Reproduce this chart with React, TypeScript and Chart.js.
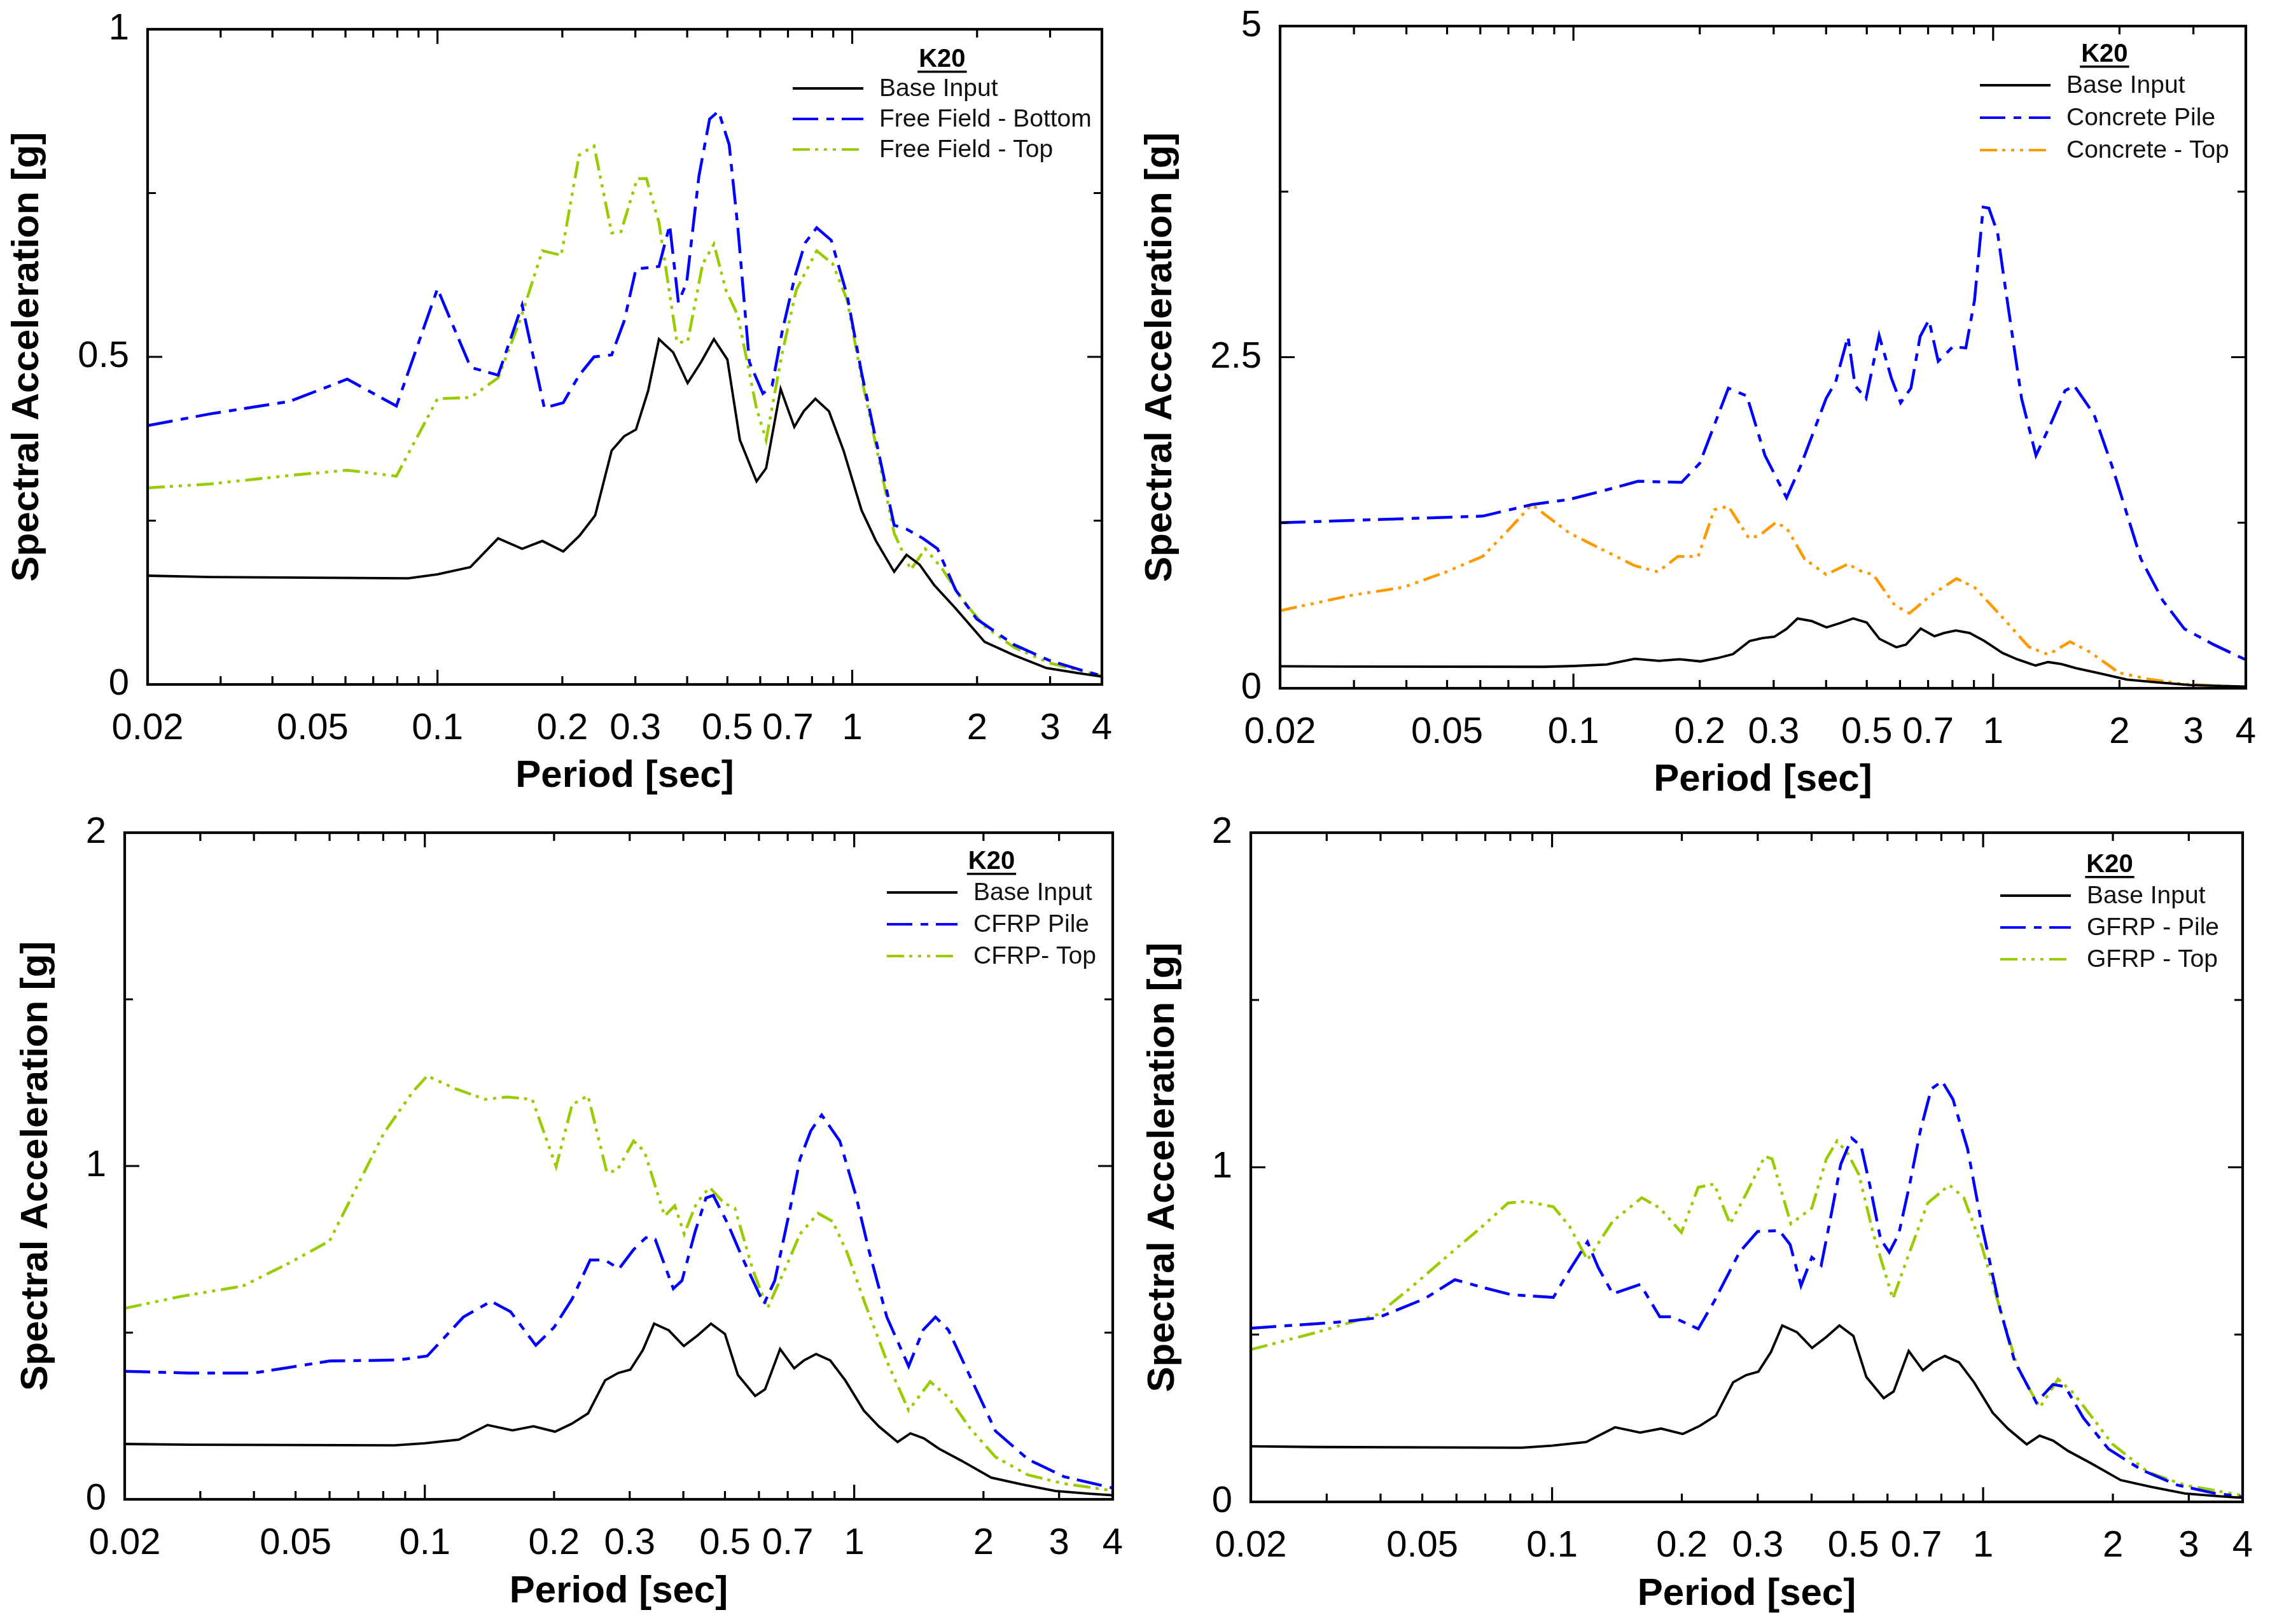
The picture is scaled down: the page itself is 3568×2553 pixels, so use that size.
import { useEffect, useRef } from 'react'
import { Chart, registerables } from 'chart.js'

Chart.register(...registerables)

const FONT = '"Liberation Sans", Arial, sans-serif'
Chart.defaults.font.family = FONT
Chart.defaults.color = '#000'

// labelled periods and the tick marks of the log axis
const X_TICKS = [0.02, 0.05, 0.1, 0.2, 0.3, 0.5, 0.7, 1, 2, 3, 4]
const X_MAJOR_MARKS = [0.1, 1]
const X_MINOR_MARKS = [0.03, 0.04, 0.05, 0.06, 0.07, 0.08, 0.09, 0.2, 0.3, 0.4, 0.5, 0.6, 0.7, 0.8, 0.9, 2, 3]

// [period (sec), spectral acceleration (g)]
const BASE_INPUT: [number, number][] = [
  [0.02, 0.166], [0.0283, 0.164], [0.085, 0.162], [0.1, 0.168], [0.12, 0.179], [0.14, 0.223],
  [0.16, 0.207], [0.179, 0.219], [0.201, 0.203], [0.22, 0.227], [0.24, 0.258], [0.263, 0.357],
  [0.282, 0.379], [0.301, 0.389], [0.322, 0.448], [0.342, 0.527], [0.37, 0.507], [0.401, 0.46],
  [0.432, 0.492], [0.464, 0.527], [0.5, 0.496], [0.536, 0.373], [0.588, 0.31], [0.62, 0.33],
  [0.672, 0.451], [0.725, 0.393], [0.764, 0.417], [0.815, 0.436], [0.879, 0.417], [0.953, 0.357],
  [1.053, 0.266], [1.141, 0.219], [1.262, 0.172], [1.352, 0.198], [1.453, 0.183], [1.575, 0.152],
  [1.776, 0.116], [2.085, 0.065], [2.45, 0.045], [2.94, 0.025], [3.52, 0.017], [4.0, 0.012],
]

const FF_BOTTOM: [number, number][] = [
  [0.02, 0.395], [0.0283, 0.413], [0.044, 0.432], [0.0606, 0.466], [0.0796, 0.425], [0.1, 0.604],
  [0.1202, 0.484], [0.14, 0.472], [0.16, 0.579], [0.181, 0.422], [0.201, 0.43], [0.2196, 0.472],
  [0.2385, 0.5], [0.263, 0.503], [0.282, 0.555], [0.301, 0.634], [0.342, 0.638], [0.363, 0.701],
  [0.381, 0.583], [0.399, 0.614], [0.427, 0.776], [0.453, 0.863], [0.476, 0.875], [0.505, 0.824],
  [0.53, 0.697], [0.565, 0.492], [0.609, 0.444], [0.641, 0.456], [0.678, 0.539], [0.727, 0.622],
  [0.77, 0.674], [0.821, 0.697], [0.89, 0.678], [0.972, 0.594], [1.053, 0.476], [1.141, 0.373],
  [1.262, 0.243], [1.352, 0.237], [1.481, 0.223], [1.606, 0.207], [1.776, 0.144], [1.996, 0.1],
  [2.45, 0.061], [2.98, 0.037], [3.52, 0.023], [4.0, 0.013],
]

const FF_TOP: [number, number][] = [
  [0.02, 0.3], [0.0283, 0.306], [0.044, 0.319], [0.0606, 0.327], [0.0796, 0.318], [0.1, 0.436],
  [0.1202, 0.438], [0.14, 0.468], [0.158, 0.555], [0.179, 0.662], [0.1988, 0.655], [0.2196, 0.808],
  [0.2385, 0.822], [0.263, 0.689], [0.277, 0.691], [0.303, 0.772], [0.319, 0.772], [0.342, 0.705],
  [0.378, 0.522], [0.401, 0.523], [0.436, 0.642], [0.464, 0.672], [0.496, 0.602], [0.53, 0.563],
  [0.588, 0.421], [0.62, 0.373], [0.675, 0.5], [0.733, 0.602], [0.821, 0.662], [0.897, 0.642],
  [0.972, 0.587], [1.053, 0.468], [1.141, 0.365], [1.262, 0.231], [1.384, 0.175], [1.5, 0.207],
  [1.638, 0.179], [1.849, 0.128], [2.085, 0.089], [2.45, 0.057], [2.98, 0.033], [4.0, 0.013],
]

const CONCRETE_PILE: [number, number][] = [
  [0.02, 1.25], [0.0608, 1.3], [0.0796, 1.387], [0.0978, 1.426], [0.1193, 1.496], [0.1426, 1.563],
  [0.181, 1.555], [0.2, 1.699], [0.234, 2.266], [0.259, 2.207], [0.286, 1.758], [0.322, 1.438],
  [0.348, 1.68], [0.4, 2.188], [0.4215, 2.313], [0.451, 2.656], [0.469, 2.285], [0.498, 2.188],
  [0.535, 2.664], [0.572, 2.344], [0.602, 2.156], [0.637, 2.266], [0.67, 2.656], [0.703, 2.781],
  [0.74, 2.469], [0.801, 2.578], [0.861, 2.57], [0.903, 2.93], [0.947, 3.633], [0.977, 3.625],
  [1.025, 3.438], [1.058, 3.125], [1.169, 2.188], [1.265, 1.758], [1.37, 1.992], [1.483, 2.246],
  [1.56, 2.285], [1.738, 2.07], [1.919, 1.68], [2.249, 0.977], [2.535, 0.664], [2.855, 0.449],
  [3.342, 0.332], [4.0, 0.215],
]

const CONCRETE_TOP: [number, number][] = [
  [0.02, 0.586], [0.0297, 0.703], [0.0393, 0.762], [0.0498, 0.879], [0.0608, 0.996], [0.0698, 1.191],
  [0.0796, 1.387], [0.0978, 1.172], [0.1193, 1.035], [0.1398, 0.926], [0.159, 0.879], [0.1774, 0.996],
  [0.1983, 0.996], [0.2165, 1.348], [0.234, 1.375], [0.262, 1.133], [0.277, 1.152], [0.303, 1.25],
  [0.322, 1.211], [0.3554, 0.977], [0.4, 0.859], [0.451, 0.938], [0.488, 0.879], [0.518, 0.859],
  [0.5835, 0.625], [0.632, 0.566], [0.711, 0.703], [0.818, 0.828], [0.903, 0.762], [1.058, 0.527],
  [1.216, 0.313], [1.353, 0.254], [1.525, 0.352], [1.702, 0.273], [1.997, 0.117], [2.34, 0.07],
  [2.855, 0.031], [4.0, 0.008],
]

const CFRP_PILE: [number, number][] = [
  [0.02, 0.384], [0.0281, 0.379], [0.04, 0.379], [0.0485, 0.396], [0.06, 0.415], [0.0867, 0.418],
  [0.1013, 0.43], [0.123, 0.547], [0.1426, 0.594], [0.1583, 0.563], [0.1813, 0.462], [0.2, 0.516],
  [0.2203, 0.601], [0.2427, 0.718], [0.2624, 0.718], [0.2835, 0.692], [0.3062, 0.749], [0.3272, 0.785],
  [0.344, 0.78], [0.379, 0.632], [0.397, 0.656], [0.4261, 0.803], [0.4516, 0.904], [0.4696, 0.912],
  [0.5075, 0.827], [0.5483, 0.726], [0.6161, 0.586], [0.653, 0.656], [0.7055, 0.858], [0.7478, 1.021],
  [0.7925, 1.106], [0.84, 1.153], [0.9257, 1.075], [1.0085, 0.912], [1.081, 0.749], [1.191, 0.547],
  [1.339, 0.399], [1.447, 0.508], [1.546, 0.547], [1.657, 0.508], [1.862, 0.368], [2.133, 0.205],
  [2.54, 0.12], [3.08, 0.068], [4.0, 0.034],
]

const CFRP_TOP: [number, number][] = [
  [0.02, 0.573], [0.0271, 0.609], [0.0377, 0.64], [0.0485, 0.71], [0.06, 0.775], [0.0803, 1.099],
  [0.0938, 1.223], [0.1013, 1.27], [0.1183, 1.231], [0.1382, 1.2], [0.1553, 1.207], [0.1779, 1.2],
  [0.2022, 0.998], [0.2203, 1.184], [0.2399, 1.211], [0.2653, 0.982], [0.28, 0.985], [0.3062, 1.075],
  [0.3246, 1.044], [0.3619, 0.85], [0.382, 0.881], [0.4019, 0.796], [0.4294, 0.889], [0.4604, 0.936],
  [0.4975, 0.889], [0.5274, 0.873], [0.5811, 0.687], [0.628, 0.573], [0.692, 0.694], [0.7478, 0.796],
  [0.824, 0.858], [0.8906, 0.834], [0.962, 0.741], [1.061, 0.586], [1.191, 0.415], [1.339, 0.267],
  [1.503, 0.353], [1.657, 0.306], [1.862, 0.213], [2.133, 0.127], [2.54, 0.073], [3.08, 0.047],
  [4.0, 0.026],
]

const GFRP_PILE: [number, number][] = [
  [0.02, 0.519], [0.0318, 0.537], [0.0394, 0.55], [0.0506, 0.607], [0.0595, 0.664], [0.069, 0.641],
  [0.0805, 0.619], [0.1007, 0.611], [0.1097, 0.692], [0.1208, 0.777], [0.128, 0.7], [0.1383, 0.622],
  [0.1602, 0.65], [0.1778, 0.553], [0.1898, 0.553], [0.2183, 0.517], [0.2377, 0.599], [0.2721, 0.746],
  [0.2997, 0.808], [0.3366, 0.811], [0.3567, 0.769], [0.378, 0.646], [0.4005, 0.731], [0.4211, 0.707],
  [0.4412, 0.839], [0.4675, 1.009], [0.4955, 1.087], [0.5211, 1.063], [0.5458, 0.947], [0.5783, 0.785],
  [0.6057, 0.746], [0.637, 0.8], [0.675, 0.947], [0.7153, 1.11], [0.758, 1.234], [0.8033, 1.257],
  [0.8513, 1.203], [0.92, 1.056], [0.994, 0.824], [1.095, 0.576], [1.183, 0.421], [1.329, 0.297],
  [1.452, 0.351], [1.551, 0.344], [1.708, 0.251], [1.954, 0.158], [2.328, 0.096], [2.825, 0.05],
  [3.43, 0.026], [4.0, 0.015],
]

const GFRP_TOP: [number, number][] = [
  [0.02, 0.455], [0.0283, 0.506], [0.0394, 0.56], [0.0468, 0.638], [0.0595, 0.754], [0.069, 0.824],
  [0.079, 0.893], [0.0869, 0.898], [0.1007, 0.882], [0.1097, 0.824], [0.1208, 0.723], [0.1383, 0.839],
  [0.1615, 0.909], [0.1778, 0.878], [0.1995, 0.805], [0.2183, 0.94], [0.2377, 0.95], [0.2588, 0.831],
  [0.2829, 0.924], [0.3116, 1.033], [0.3239, 1.025], [0.3581, 0.831], [0.4005, 0.878], [0.4328, 1.025],
  [0.4585, 1.079], [0.4858, 1.04], [0.515, 0.978], [0.5565, 0.8], [0.6175, 0.607], [0.675, 0.746],
  [0.7437, 0.893], [0.8351, 0.947], [0.9022, 0.909], [0.994, 0.762], [1.095, 0.576], [1.205, 0.398],
  [1.354, 0.282], [1.492, 0.367], [1.612, 0.328], [1.775, 0.259], [1.994, 0.173], [2.42, 0.088],
  [2.94, 0.05], [4.0, 0.019],
]

const BLACK = '#000000'
const BLUE = '#0000ff'
const GREEN = '#99cc00'
const ORANGE = '#ff9900'
const SOLID: number[] = []
const DASH_DOT = [40, 13, 12, 12]
const DASH_DOT_DOT = [27, 8, 5, 9, 5, 9, 5, 9]

interface Series {
  label: string
  points: [number, number][]
  color: string
  dash: number[]
}

interface PanelConfig {
  left: number
  top: number
  w: number
  h: number
  area: { left: number; top: number; right: number; bottom: number }
  yMax: number
  yStep: number
  series: Series[]
  legend: { fromRight: number; titleY: number; rowY: number; rowGap: number }
  xTitlePad: number
  yTitlePad: number
}

const base = (): Series => ({ label: 'Base Input', points: BASE_INPUT, color: BLACK, dash: SOLID })

const PANELS: PanelConfig[] = [
  {
    left: 0, top: 0, w: 1784, h: 1276,
    area: { left: 232, top: 46, right: 1732, bottom: 1076 },
    yMax: 1, yStep: 0.5,
    series: [
      base(),
      { label: 'Free Field - Bottom', points: FF_BOTTOM, color: BLUE, dash: DASH_DOT },
      { label: 'Free Field - Top', points: FF_TOP, color: GREEN, dash: DASH_DOT_DOT },
    ],
    legend: { fromRight: 350, titleY: 48, rowY: 93, rowGap: 48 },
    xTitlePad: 20, yTitlePad: 7,
  },
  {
    left: 1784, top: 0, w: 1784, h: 1276,
    area: { left: 228, top: 41, right: 1746, bottom: 1082 },
    yMax: 5, yStep: 2.5,
    series: [
      base(),
      { label: 'Concrete Pile', points: CONCRETE_PILE, color: BLUE, dash: DASH_DOT },
      { label: 'Concrete - Top', points: CONCRETE_TOP, color: ORANGE, dash: DASH_DOT_DOT },
    ],
    legend: { fromRight: 282, titleY: 45, rowY: 93, rowGap: 51 },
    xTitlePad: 14, yTitlePad: 4,
  },
  {
    left: 0, top: 1230, w: 1784, h: 1323,
    area: { left: 196, top: 79, right: 1749, bottom: 1127 },
    yMax: 2, yStep: 1,
    series: [
      base(),
      { label: 'CFRP Pile', points: CFRP_PILE, color: BLUE, dash: DASH_DOT },
      { label: 'CFRP- Top', points: CFRP_TOP, color: GREEN, dash: DASH_DOT_DOT },
    ],
    legend: { fromRight: 219, titleY: 46, rowY: 94, rowGap: 50 },
    xTitlePad: 15, yTitlePad: 21,
  },
  {
    left: 1784, top: 1230, w: 1784, h: 1323,
    area: { left: 182, top: 79, right: 1741, bottom: 1131 },
    yMax: 2, yStep: 1,
    series: [
      base(),
      { label: 'GFRP - Pile', points: GFRP_PILE, color: BLUE, dash: DASH_DOT },
      { label: 'GFRP - Top', points: GFRP_TOP, color: GREEN, dash: DASH_DOT_DOT },
    ],
    legend: { fromRight: 245, titleY: 51, rowY: 99, rowGap: 50 },
    xTitlePad: 11, yTitlePad: 8,
  },
]

// box round the plot with inward ticks on all four sides
const framePlugin = {
  id: 'frame',
  afterDatasetsDraw(chart: any) {
    const { ctx, chartArea: a, scales } = chart
    const x = scales.x
    const y = scales.y
    const step = chart.options.plugins.frame.yStep
    const max = chart.options.plugins.frame.yMax
    ctx.save()
    ctx.strokeStyle = '#000'
    ctx.lineWidth = 3.2
    ctx.setLineDash([])
    ctx.beginPath()
    const xMark = (v: number, len: number) => {
      const px = x.getPixelForValue(v)
      ctx.moveTo(px, a.bottom)
      ctx.lineTo(px, a.bottom - len)
      ctx.moveTo(px, a.top)
      ctx.lineTo(px, a.top + len)
    }
    X_MAJOR_MARKS.forEach((v) => xMark(v, 23))
    X_MINOR_MARKS.forEach((v) => xMark(v, 13))
    for (let i = 1; i * step / 2 < max; i++) {
      const py = y.getPixelForValue(i * step / 2)
      const len = i % 2 === 0 ? 23 : 13
      ctx.moveTo(a.left, py)
      ctx.lineTo(a.left + len, py)
      ctx.moveTo(a.right, py)
      ctx.lineTo(a.right - len, py)
    }
    ctx.stroke()
    ctx.lineWidth = 4.2
    ctx.strokeRect(a.left, a.top, a.right - a.left, a.bottom - a.top)
    ctx.restore()
  },
}

const legendPlugin = {
  id: 'k20',
  afterDraw(chart: any) {
    const { ctx, chartArea: a } = chart
    const o = chart.options.plugins.k20
    const sets = chart.data.datasets
    const textX = a.right - o.fromRight
    ctx.save()
    ctx.font = `39px ${FONT}`
    const maxW = Math.max(...sets.map((d: any) => ctx.measureText(d.label).width))
    const centerX = (textX - 136 + textX + maxW) / 2

    ctx.font = `bold 40px ${FONT}`
    ctx.fillStyle = '#000'
    ctx.textAlign = 'center'
    ctx.textBaseline = 'middle'
    const ty = a.top + o.titleY
    ctx.fillText('K20', centerX, ty)
    const tw = ctx.measureText('K20').width
    ctx.fillRect(centerX - tw / 2 - 2, ty + 17, tw + 4, 3.5)

    ctx.font = `39px ${FONT}`
    ctx.textAlign = 'left'
    sets.forEach((d: any, i: number) => {
      const ry = a.top + o.rowY + i * o.rowGap
      ctx.strokeStyle = d.borderColor
      ctx.lineWidth = 4
      ctx.setLineDash(d.borderDash || [])
      ctx.beginPath()
      ctx.moveTo(textX - 136, ry)
      ctx.lineTo(textX - 25, ry)
      ctx.stroke()
      ctx.fillStyle = '#111'
      ctx.fillText(d.label, textX, ry + 1)
    })
    ctx.restore()
  },
}

function Panel({ cfg }: { cfg: PanelConfig }) {
  const canvasRef = useRef<HTMLCanvasElement>(null)

  useEffect(() => {
    if (!canvasRef.current) return
    const { w, h, area } = cfg

    const chart = new Chart(canvasRef.current, {
      type: 'line',
      data: {
        datasets: cfg.series.map((s) => ({
          label: s.label,
          data: s.points.map(([t, sa]) => ({ x: t, y: sa })),
          borderColor: s.color,
          borderDash: s.dash,
          borderWidth: s.dash.length ? 4.5 : 3.8,
          pointRadius: 0,
          tension: 0,
          fill: false,
        })),
      },
      options: {
        responsive: false,
        animation: false,
        devicePixelRatio: 1,
        layout: { padding: { left: 0, top: area.top, right: w - area.right, bottom: 0 } },
        plugins: {
          legend: { display: false },
          tooltip: { enabled: false },
          frame: { yStep: cfg.yStep, yMax: cfg.yMax },
          k20: cfg.legend,
        },
        scales: {
          x: {
            type: 'logarithmic',
            min: 0.02,
            max: 4,
            grid: { display: false, drawTicks: false },
            border: { display: false },
            afterBuildTicks: (scale: any) => {
              scale.ticks = X_TICKS.map((value) => ({ value }))
            },
            afterFit: (scale: any) => {
              scale.height = h - area.bottom
              scale.paddingLeft = 0
              scale.paddingRight = 0
            },
            ticks: {
              autoSkip: false,
              maxRotation: 0,
              padding: 35,
              color: '#000',
              font: { size: 58 },
              callback: (v: any) => String(v),
            },
            title: {
              display: true,
              text: 'Period [sec]',
              color: '#000',
              font: { size: 60, weight: 'bold' },
              padding: { top: 0, bottom: cfg.xTitlePad },
            },
          },
          y: {
            min: 0,
            max: cfg.yMax,
            grid: { display: false, drawTicks: false },
            border: { display: false },
            afterFit: (scale: any) => {
              scale.width = area.left
              scale.paddingTop = 0
              scale.paddingBottom = 0
            },
            ticks: {
              stepSize: cfg.yStep,
              padding: 29,
              color: '#000',
              font: { size: 58 },
              callback: (v: any) => String(v),
            },
            title: {
              display: true,
              text: 'Spectral Acceleration [g]',
              color: '#000',
              font: { size: 60, weight: 'bold' },
              padding: { top: cfg.yTitlePad, bottom: 0 },
            },
          },
        },
      } as any,
      plugins: [framePlugin, legendPlugin],
    })

    return () => {
      chart.destroy()
    }
  }, [cfg])

  return (
    <div style={{ position: 'absolute', left: cfg.left, top: cfg.top, width: cfg.w, height: cfg.h }}>
      <canvas ref={canvasRef} width={cfg.w} height={cfg.h} style={{ width: cfg.w, height: cfg.h }} />
    </div>
  )
}

export default function App() {
  return (
    <div style={{ position: 'absolute', left: 0, top: 0, width: 3568, height: 2553, background: '#fff' }}>
      {PANELS.map((p, i) => (
        <Panel key={i} cfg={p} />
      ))}
    </div>
  )
}
